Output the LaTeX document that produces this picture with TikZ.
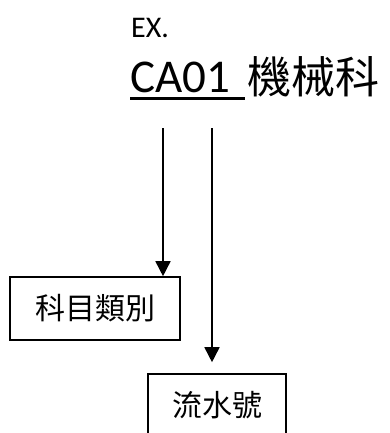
\documentclass[tikz,border=0pt]{standalone}
\usepackage{fontspec}
\setmainfont{Carlito}
\newfontfamily\cjk{Noto Sans CJK TC}
\usetikzlibrary{arrows.meta,positioning}

\begin{document}
\begin{tikzpicture}[x=1pt,y=-1pt,
		box/.style={draw,line width=1.6pt,minimum height=63pt,inner sep=0pt,font=\cjk\fontsize{30}{36}\selectfont},
		arr/.style={line width=1.6pt,-{Triangle[length=15pt,width=15pt]}}]
		\useasboundingbox (0,0) rectangle (390,433);
		\clip (0,0) rectangle (390,433);

		%% Heading: example code
		\node[anchor=base west,inner sep=0pt,font=\fontsize{30}{36}\selectfont] (ex) at (131,38) {EX.};
		\node[anchor=base west,inner sep=0pt,font=\fontsize{47}{56}\selectfont] (code) at (130,93) {CA01};
		\node[anchor=base west,inner sep=0pt,font=\cjk\fontsize{44}{54}\selectfont] (dept) at (247,94) {機械科};
		\draw[line width=3pt] ([yshift=-6pt]code.base west) -- ([xshift=-2pt,yshift=-5pt]dept.base west);

		%% Parts of the code
		\node[box,minimum width=170pt] (cat) at (95,308.5) {科目類別};
		\node[box,minimum width=138pt] (num) at (217,405.5) {流水號};

		% Arrows
		\coordinate (cl) at (163,128);
		\coordinate (cr) at (212,128);
		\draw[arr] (cl) -- (cl |- cat.north);
		\draw[arr] (cr) -- ([yshift=11pt]cr |- num.north);
	\end{tikzpicture}
\end{document}
